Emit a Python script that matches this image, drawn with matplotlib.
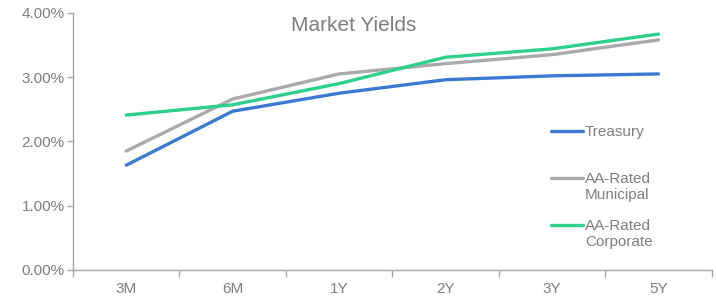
import numpy as np
import matplotlib
matplotlib.use("Agg")
import matplotlib.pyplot as plt
from matplotlib.ticker import FixedLocator, FuncFormatter

plt.rcParams['font.family'] = ['Liberation Sans', 'DejaVu Sans']

# data
tenors = ['3M', '6M', '1Y', '2Y', '3Y', '5Y']
treasury = [1.63, 2.47, 2.75, 2.96, 3.02, 3.05]
municipal = [1.85, 2.66, 3.05, 3.21, 3.35, 3.58]
corporate = [2.41, 2.57, 2.90, 3.31, 3.44, 3.67]

series_names = ['Treasury', 'AA-Rated\nMunicipal', 'AA-Rated\nCorporate']
colors = ['#3C7AD2', '#AAAAAA', '#2DD08C']

txt = '#7F7F7F'
spine = '#A6A6A6'

fig = plt.figure(figsize=(7.16, 2.99), dpi=100)
ax = fig.add_axes([0.102, 0.097, 0.892, 0.860])

x = np.arange(len(tenors))
for vals, c in zip([treasury, municipal, corporate], colors):
    ax.plot(x, vals, color=c, lw=2.4, solid_capstyle='round', solid_joinstyle='round')

ax.set_xlim(-0.5, len(tenors) - 0.5)
ax.set_ylim(0, 4)
ax.set_yticks([0, 1, 2, 3, 4])
ax.yaxis.set_major_formatter(FuncFormatter(lambda v, p: f'{v:.2f}%'))
ax.set_xticks(x)
ax.set_xticklabels(tenors)
ax.xaxis.set_minor_locator(FixedLocator(np.arange(-0.5, len(tenors), 1.0)))

for s in ['top', 'right']:
    ax.spines[s].set_visible(False)
for s in ['left', 'bottom']:
    ax.spines[s].set_color(spine)
    ax.spines[s].set_linewidth(1.0)

ax.tick_params(axis='y', colors=spine, labelcolor=txt, labelsize=11, length=4, width=1, pad=2)
ax.tick_params(axis='x', which='major', length=0, labelcolor=txt, labelsize=11, pad=9)
ax.tick_params(axis='x', which='minor', length=5, width=1, color=spine)

ax.text(0.44, 0.95, 'Market Yields', transform=ax.transAxes, ha='center', va='center',
        fontsize=15, color=txt)

# legend drawn by hand so the handle sits on the first text line
leg_y = [131, 178, 225]
for name, c, yy in zip(series_names, colors, leg_y):
    fy = 1 - yy / 299
    fig.add_artist(plt.Line2D([551 / 716, 583 / 716], [fy, fy], color=c, lw=2.4,
                              solid_capstyle='round'))
    fig.text(585 / 716, 1 - (yy - 6) / 299, name, ha='left', va='top', fontsize=11,
             color=txt, linespacing=1.2)

fig.savefig('out.png', dpi=100)
